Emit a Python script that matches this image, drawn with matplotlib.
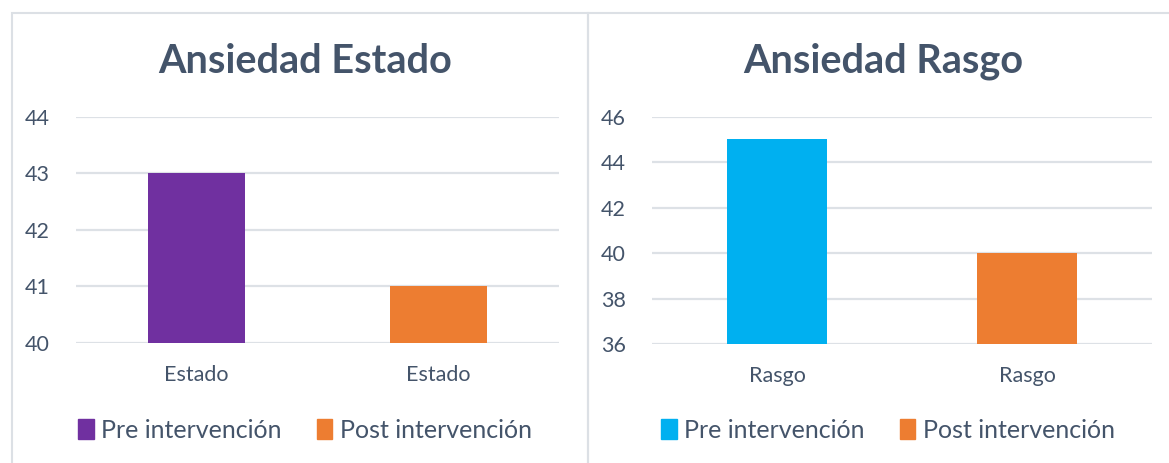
import matplotlib.pyplot as plt
from matplotlib.patches import Patch, Rectangle

# data
estado_cats = ['Estado', 'Estado']
estado_vals = [43, 41]
rasgo_cats = ['Rasgo', 'Rasgo']
rasgo_vals = [45, 40]
series_names = ['Pre intervención', 'Post intervención']
estado_ticks = [40, 41, 42, 43, 44]
rasgo_ticks = [36, 38, 40, 42, 44, 46]

purple = '#7030A0'
orange = '#ED7D31'
cyan = '#00B0F0'
txt = '#44546A'
grid_c = '#DDE1E6'
border_c = '#DCE0E5'

plt.rcParams['font.family'] = ['Lato', 'DejaVu Sans']

fig = plt.figure(figsize=(11.69, 4.63), dpi=100)

# panel frames
W, H = 1169, 463
fig.patches.append(Rectangle((12 / W, -0.1), (588 - 12) / W, 1.1 - 13 / H, transform=fig.transFigure,
                             fill=False, ec=border_c, lw=1.5))
fig.patches.append(Rectangle((588 / W, -0.1), 0.6, 1.1 - 13 / H, transform=fig.transFigure,
                             fill=False, ec=border_c, lw=1.5))


def draw_panel(rect, cats, vals, colors, ticks, title, title_x, leg_x):
    ax = fig.add_axes(rect)
    x = list(range(len(cats)))
    ax.bar(x, [v - ticks[0] for v in vals], bottom=ticks[0], width=0.4, color=colors, zorder=3)
    ax.set_xlim(-0.5, len(cats) - 0.5)
    ax.set_ylim(ticks[0], ticks[-1])
    ax.set_yticks(ticks)
    ax.set_xticks(x)
    ax.set_xticklabels(cats)
    for s in ax.spines.values():
        s.set_visible(False)
    ax.grid(axis='y', color=grid_c, lw=1.6, zorder=0)
    ax.set_axisbelow(True)
    ax.tick_params(axis='y', length=0, pad=19, labelsize=15.5, labelcolor=txt)
    ax.tick_params(axis='x', length=0, pad=16, labelsize=15.5, labelcolor=txt)
    for lbl in ax.get_yticklabels():
        lbl.set_clip_on(False)
    fig.text(title_x, 0.868, title, ha='center', va='center', fontsize=28.5,
             fontweight='bold', color=txt)
    handles = [Patch(color=colors[0]), Patch(color=colors[1])]
    leg = fig.legend(handles, series_names, loc='center', bbox_to_anchor=(leg_x, 0.071), ncol=2,
                     frameon=False, fontsize=18, handlelength=0.62, handleheight=0.8,
                     handletextpad=0.3, columnspacing=1.4, labelcolor=txt)
    return ax


draw_panel([76 / W, 0.259, (559 - 76) / W, 0.489], estado_cats, estado_vals, [purple, orange],
           estado_ticks, 'Ansiedad Estado', 305 / W, 305 / W)
draw_panel([652 / W, 0.257, (1152 - 652) / W, 0.491], rasgo_cats, rasgo_vals, [cyan, orange],
           rasgo_ticks, 'Ansiedad Rasgo', 883 / W, 888 / W)

plt.savefig('out.png', dpi=100)
